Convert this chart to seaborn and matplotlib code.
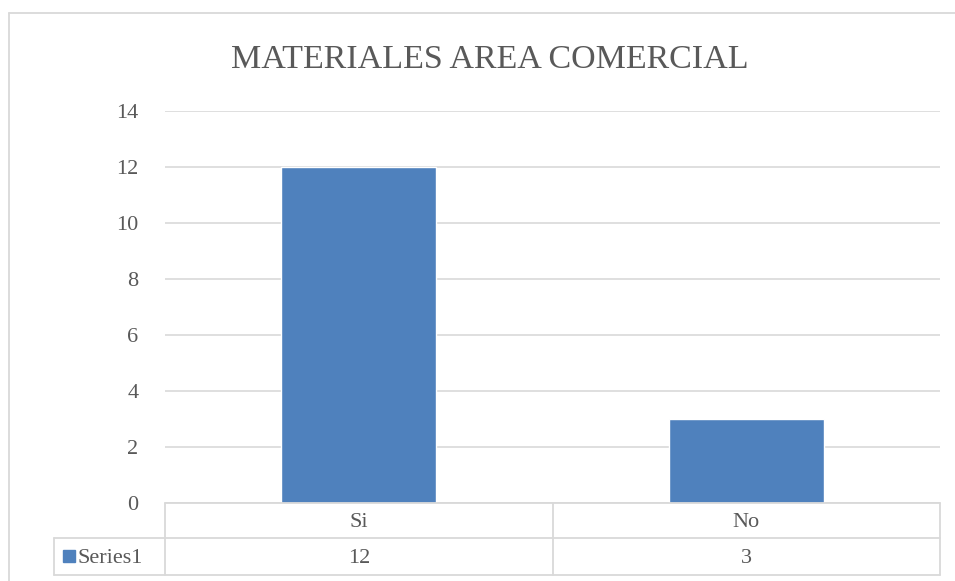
import matplotlib
matplotlib.use("Agg")
import matplotlib.pyplot as plt
import seaborn as sns
import pandas as pd
from matplotlib.lines import Line2D
from matplotlib.patches import Rectangle

categories = ["Si", "No"]
values = [12, 3]
series_name = "Series1"
title = "MATERIALES AREA COMERCIAL"
yticks = [0, 2, 4, 6, 8, 10, 12, 14]

sns.set_theme(style="white")
plt.rcParams['font.family'] = ['Liberation Serif', 'DejaVu Serif']

W, H = 955, 581
fig = plt.figure(figsize=(W / 100, H / 100), dpi=100)

def fx(px):
    return px / W

def fy(py):
    return 1 - py / H

left, right, top, bottom = 165, 940, 111, 503
ax = fig.add_axes([fx(left), fy(bottom), fx(right - left), (bottom - top) / H])

df = pd.DataFrame({"cat": categories, "val": values})
sns.barplot(data=df, x="cat", y="val", ax=ax, color="#4f81bd", width=0.4,
            saturation=1, order=categories)
ax.set_ylim(0, 14)
ax.set_yticks(yticks)
ax.yaxis.grid(True, color="#d9d9d9", linewidth=1.2)
ax.set_axisbelow(True)
for s in ax.spines.values():
    s.set_visible(False)
ax.set_xlabel("")
ax.set_ylabel("")
ax.set_xticks([])
ax.tick_params(axis="y", length=0, pad=19, labelsize=16, labelcolor="#595959")

grey = "#d9d9d9"
def line(x0, y0, x1, y1):
    fig.add_artist(Line2D([fx(x0), fx(x1)], [fy(y0), fy(y1)], color=grey, lw=1.3))

# chart border
line(9, 13, 955, 13)
line(9, 13, 9, 581)

# data table
row1, row2, row3 = 503, 538, 575
tl = 54
line(left, row1, right, row1)
line(tl, row2, right, row2)
line(tl, row3, right, row3)
line(tl, row2, tl, row3)
ncat = len(categories)
colw = (right - left) / ncat
for i in range(ncat + 1):
    line(left + i * colw, row1, left + i * colw, row3)
for i, (c, v) in enumerate(zip(categories, values)):
    cx = left + (i + 0.5) * colw
    fig.text(fx(cx), fy((row1 + row2) / 2 + 2), c, ha="center", va="center",
             fontsize=16, color="#595959")
    fig.text(fx(cx), fy((row2 + row3) / 2 + 2), str(v), ha="center", va="center",
             fontsize=16, color="#595959")
fig.add_artist(Rectangle((fx(63), fy(562)), fx(12), 12 / H, color="#4f81bd"))
fig.text(fx(77), fy((row2 + row3) / 2 + 2), series_name, ha="left", va="center",
         fontsize=16, color="#595959")

fig.text(fx(490), fy(60), title, ha="center", va="center", fontsize=24.5,
         color="#595959")

fig.savefig("out.png", dpi=100)
